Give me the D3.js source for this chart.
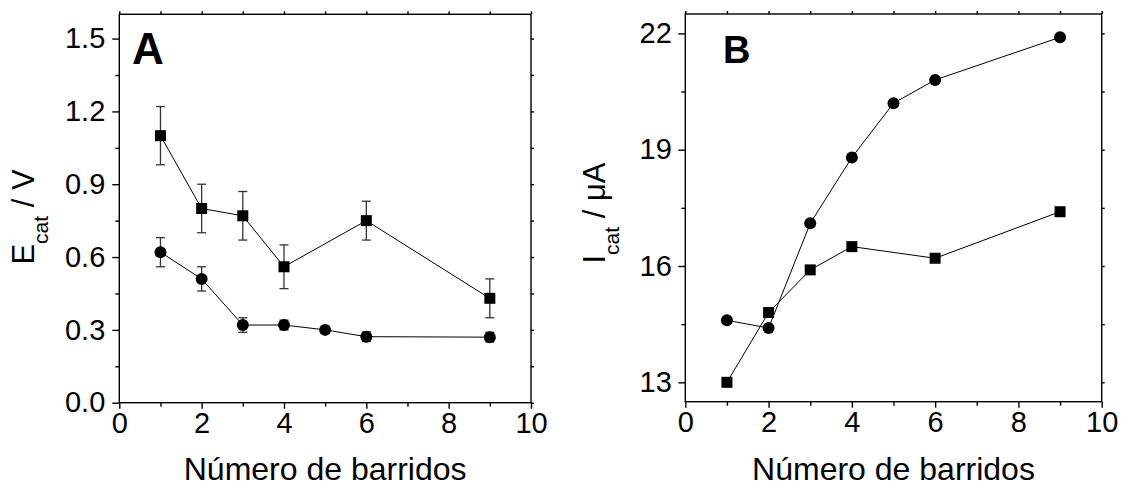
<!DOCTYPE html>
<html><head><meta charset="utf-8">
<script src="https://cdn.jsdelivr.net/npm/d3@7"></script>
<style>
body{margin:0;background:#fff}
svg{display:block}
text{font-family:"Liberation Sans",Arial,sans-serif;fill:#000}
</style>
</head><body>
<svg id="c" width="1121" height="488"></svg>
<script>
// ---- data ----
const sweepsASquare = [1, 2, 3, 4, 6, 9];
const ecatSquare = [1.10, 0.80, 0.77, 0.56, 0.75, 0.43];
const ecatSquareErr = [0.12, 0.10, 0.10, 0.09, 0.08, 0.08];
const sweepsACircle = [1, 2, 3, 4, 5, 6, 9];
const ecatCircle = [0.62, 0.51, 0.32, 0.32, 0.30, 0.272, 0.27];
const ecatCircleErr = [0.06, 0.05, 0.03, 0.02, 0.015, 0.02, 0.02];
const sweepsBCircle = [1, 2, 3, 4, 5, 6, 9];
const icatCircle = [14.6, 14.4, 17.1, 18.8, 20.2, 20.8, 21.9];
const sweepsBSquare = [1, 2, 3, 4, 6, 9];
const icatSquare = [13.0, 14.8, 15.9, 16.5, 16.2, 17.4];
const xTicks = [0, 2, 4, 6, 8, 10];
const xMinorTicks = [1, 3, 5, 7, 9];
const yTicksA = [0.0, 0.3, 0.6, 0.9, 1.2, 1.5];
const yMinorTicksA = [0.15, 0.45, 0.75, 1.05, 1.35];
const yTicksB = [13, 16, 19, 22];
const yMinorTicksB = [14.5, 17.5, 20.5];
const xTitle = "Número de barridos";

const svg = d3.select("#c");
svg.append("rect").attr("width",1121).attr("height",488).attr("fill","#fff");

function panel(cfg){
  const x = d3.scaleLinear().domain([0,10]).range([cfg.left, cfg.right]);
  const y = d3.scaleLinear().domain(cfg.yDomain).range([cfg.bottom, cfg.top]);
  const g = svg.append("g");
  g.append("rect").attr("x",cfg.left).attr("y",cfg.top)
    .attr("width",cfg.right-cfg.left).attr("height",cfg.bottom-cfg.top)
    .attr("fill","none").attr("stroke","#000").attr("stroke-width",1.4);
  const styleAxis = sel => {
    sel.select(".domain").remove();
    sel.selectAll("line").attr("stroke","#000").attr("stroke-width",1.4);
    sel.selectAll("text").style("font-family","'Liberation Sans',Arial,sans-serif").style("font-size","29px").attr("fill","#000");
  };
  g.append("g").attr("transform",`translate(0,${cfg.bottom})`)
    .call(d3.axisBottom(x).tickValues(xTicks).tickSize(6).tickPadding(4).tickFormat(d3.format("d"))).call(styleAxis);
  g.append("g").attr("transform",`translate(0,${cfg.bottom})`)
    .call(d3.axisBottom(x).tickValues(xMinorTicks).tickSize(4).tickFormat("")).call(styleAxis);
  g.append("g").attr("transform",`translate(0,${cfg.top})`)
    .call(d3.axisTop(x).tickValues(xTicks.concat(xMinorTicks)).tickSize(3).tickFormat("")).call(styleAxis);
  g.append("g").attr("transform",`translate(${cfg.left},0)`)
    .call(d3.axisLeft(y).tickValues(cfg.yTicks).tickSize(7).tickPadding(cfg.yPad).tickFormat(cfg.yFormat)).call(styleAxis);
  g.append("g").attr("transform",`translate(${cfg.left},0)`)
    .call(d3.axisLeft(y).tickValues(cfg.yMinor).tickSize(4).tickFormat("")).call(styleAxis);
  g.append("g").attr("transform",`translate(${cfg.right},0)`)
    .call(d3.axisRight(y).tickValues(cfg.yTicks.concat(cfg.yMinor)).tickSize(3).tickFormat("")).call(styleAxis);

  g.append("text").attr("x",(cfg.left+cfg.right)/2).attr("y",cfg.xTitleY)
    .attr("text-anchor","middle").style("font-size","32px").text(xTitle);
  const yt = g.append("text").attr("transform",`translate(${cfg.yTitleX},${cfg.yTitleY}) rotate(-90)`)
    .attr("text-anchor","middle").style("font-size","31px");
  yt.append("tspan").text(cfg.yMain);
  yt.append("tspan").attr("dy",14).style("font-size","21px").text("cat");
  yt.append("tspan").attr("dy",-14).text(" / " + cfg.yUnit);
  g.append("text").attr("x",cfg.labelX).attr("y",cfg.labelY)
    .style("font-size",cfg.labelSize+"px").style("font-weight","bold").text(cfg.label);

  cfg.series.forEach(s=>{
    const pts = s.xs.map((xv,i)=>({x:xv,y:s.ys[i],e:s.err?s.err[i]:0}));
    const line = d3.line().x(d=>x(d.x)).y(d=>y(d.y));
    g.append("path").datum(pts).attr("d",line).attr("fill","none").attr("stroke","#000").attr("stroke-width",1);
    if(s.err){
      const eg = g.append("g").attr("stroke","#333").attr("stroke-width",1.3);
      pts.forEach(d=>{
        eg.append("line").attr("x1",x(d.x)).attr("x2",x(d.x)).attr("y1",y(d.y-d.e)).attr("y2",y(d.y+d.e));
        eg.append("line").attr("x1",x(d.x)-4.5).attr("x2",x(d.x)+4.5).attr("y1",y(d.y-d.e)).attr("y2",y(d.y-d.e));
        eg.append("line").attr("x1",x(d.x)-4.5).attr("x2",x(d.x)+4.5).attr("y1",y(d.y+d.e)).attr("y2",y(d.y+d.e));
      });
    }
    if(s.shape==="square"){
      g.selectAll(null).data(pts).enter().append("rect")
        .attr("x",d=>x(d.x)-5.5).attr("y",d=>y(d.y)-5.5).attr("width",11).attr("height",11).attr("fill","#000");
    } else {
      g.selectAll(null).data(pts).enter().append("circle")
        .attr("cx",d=>x(d.x)).attr("cy",d=>y(d.y)).attr("r",6).attr("fill","#000");
    }
  });
}

panel({left:119.3,right:531,top:14.3,bottom:402.7,yDomain:[0,1.6],
  yTicks:yTicksA,yMinor:yMinorTicksA,yFormat:d3.format(".1f"),yPad:7,
  xTitleY:480,yTitleX:34,yTitleY:217,yMain:"E",yUnit:"V",
  label:"A",labelX:132,labelY:64,labelSize:44,
  series:[
    {xs:sweepsASquare,ys:ecatSquare,err:ecatSquareErr,shape:"square"},
    {xs:sweepsACircle,ys:ecatCircle,err:ecatCircleErr,shape:"circle"}
  ]});

panel({left:685.3,right:1101.7,top:14,bottom:401.7,yDomain:[12.5,22.5],
  yTicks:yTicksB,yMinor:yMinorTicksB,yFormat:d3.format("d"),yPad:6.5,
  xTitleY:480,yTitleX:605,yTitleY:213,yMain:"I",yUnit:"μA",
  label:"B",labelX:723,labelY:63,labelSize:38,
  series:[
    {xs:sweepsBCircle,ys:icatCircle,shape:"circle"},
    {xs:sweepsBSquare,ys:icatSquare,shape:"square"}
  ]});
</script>
</body></html>
